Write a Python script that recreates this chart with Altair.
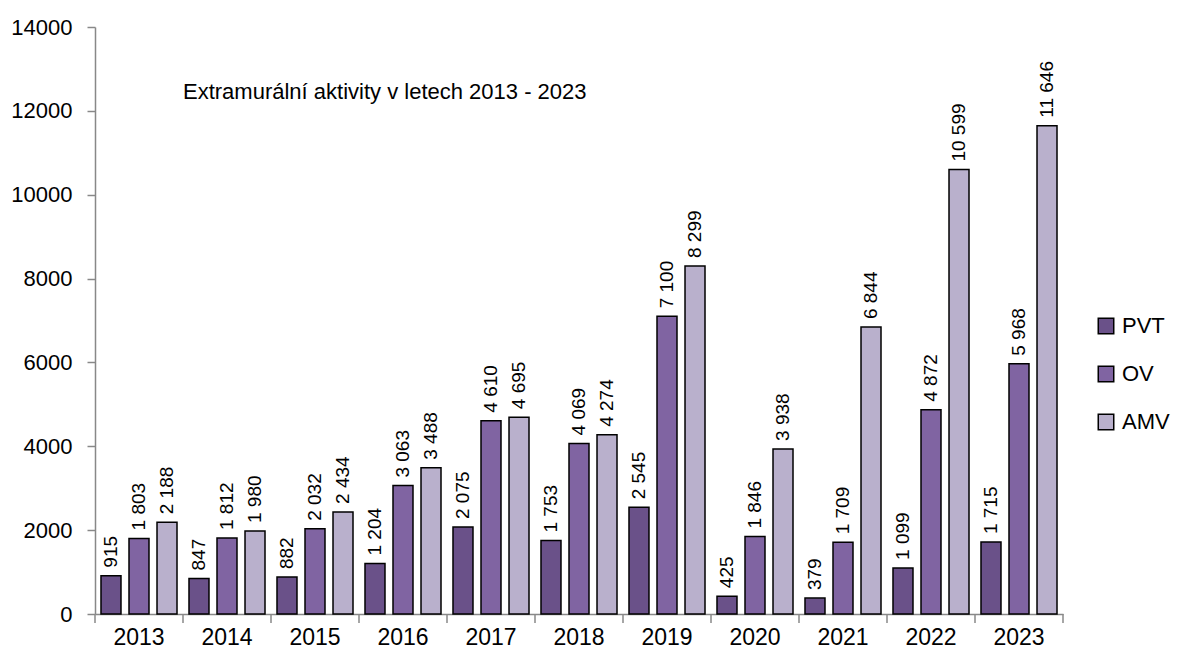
import altair as alt
import pandas as pd

years = ["2013", "2014", "2015", "2016", "2017", "2018", "2019", "2020", "2021", "2022", "2023"]
series = ["PVT", "OV", "AMV"]
pvt = [915, 847, 882, 1204, 2075, 1753, 2545, 425, 379, 1099, 1715]
ov = [1803, 1812, 2032, 3063, 4610, 4069, 7100, 1846, 1709, 4872, 5968]
amv = [2188, 1980, 2434, 3488, 4695, 4274, 8299, 3938, 6844, 10599, 11646]
colors = ["#6a5189", "#8064a2", "#b9b0cc"]
title_text = "Extramurální aktivity v letech 2013 - 2023"

rows = []
for s, vals in zip(series, [pvt, ov, amv]):
    for y, v in zip(years, vals):
        rows.append({"year": y, "series": s, "value": v,
                     "label": f"{v:,}".replace(",", " ")})
df = pd.DataFrame(rows)

W, H = 968, 587
FONT = "Liberation Sans"

x = alt.X("year:N", sort=years, title=None,
          scale=alt.Scale(paddingInner=0, paddingOuter=0),
          axis=alt.Axis(ticks=False, domain=True, domainColor="#888888", domainWidth=1.5,
                        labelFontSize=23, labelFont=FONT, labelColor="black",
                        labelAngle=0, labelPadding=12))
xo = alt.XOffset("series:N", sort=series,
                 scale=alt.Scale(domain=series, paddingInner=0.286, paddingOuter=0.214))
y = alt.Y("value:Q", title=None,
          scale=alt.Scale(domain=[0, 14000]),
          axis=alt.Axis(values=list(range(0, 14001, 2000)), grid=False,
                        domainColor="#888888", domainWidth=1.5, tickColor="#888888",
                        tickWidth=1.5, tickSize=8, labelFontSize=22, labelFont=FONT,
                        labelColor="black", labelPadding=15, format="d"))

bars = alt.Chart(df).mark_bar(stroke="black", strokeWidth=1.5).encode(
    x=x, xOffset=xo, y=y,
    color=alt.Color("series:N", sort=series,
                    scale=alt.Scale(domain=series, range=colors),
                    legend=alt.Legend(title=None, orient="none", legendX=1000, legendY=288,
                                      symbolType="square", symbolSize=240,
                                      symbolStrokeColor="black", symbolStrokeWidth=1.5,
                                      labelFontSize=22, labelFont=FONT, labelColor="black",
                                      rowPadding=26, labelOffset=5)),
)

labels = alt.Chart(df).mark_text(angle=270, align="left", baseline="middle", dx=8,
                                 fontSize=19, font=FONT, color="black").encode(
    x=x, xOffset=xo, y=y, text="label:N")

bounds = alt.Chart(pd.DataFrame({"year": years})).mark_rule(color="#888888", strokeWidth=1.5).encode(
    x=alt.X("year:N", sort=years, bandPosition=0),
    y=alt.value(H), y2=alt.value(H + 9))
end_tick = alt.Chart(pd.DataFrame({"year": [years[-1]]})).mark_rule(color="#888888", strokeWidth=1.5).encode(
    x=alt.X("year:N", sort=years, bandPosition=1),
    y=alt.value(H), y2=alt.value(H + 9))

title = alt.Chart(pd.DataFrame({"t": [title_text]})).mark_text(
    align="left", baseline="middle", fontSize=22, font=FONT, color="black").encode(
    x=alt.value(88), y=alt.value(65), text="t:N")

chart = alt.layer(bars, labels, bounds, end_tick, title).properties(
    width=W, height=H,
    autosize=alt.AutoSizeParams(type="none"),
    padding={"left": 87, "top": 19, "right": 114, "bottom": 40},
).configure_view(stroke=None)

chart.save("out.html", embed_options={"renderer": "svg", "actions": False})
